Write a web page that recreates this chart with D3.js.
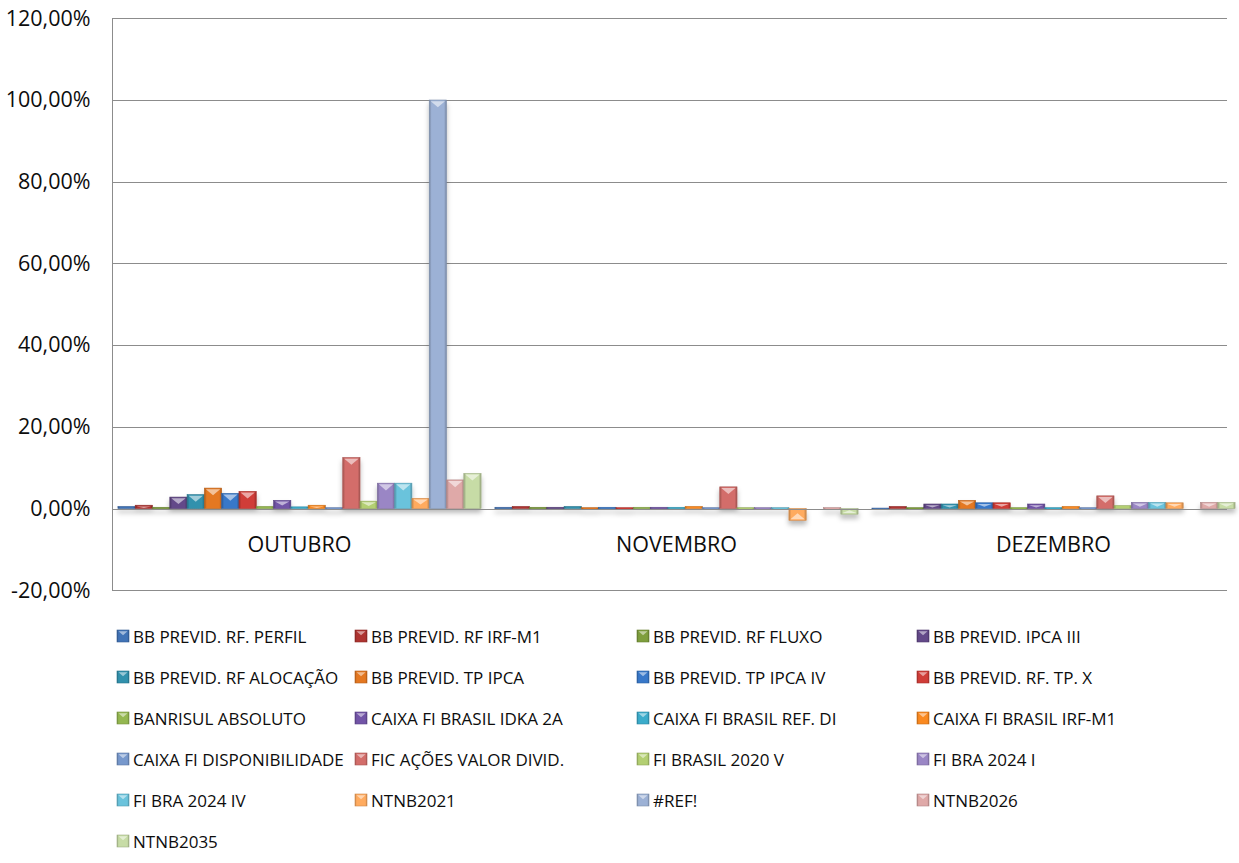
<!DOCTYPE html>
<html>
<head>
<meta charset="utf-8">
<script src="https://cdn.jsdelivr.net/npm/d3@7"></script>
<style>
  body { margin: 0; background: #fff; }
  text { font-family: "Open Sans", sans-serif; fill: #0d0d0d; }
</style>
</head>
<body>
<div id="chart"></div>
<script>
var months = ['OUTUBRO', 'NOVEMBRO', 'DEZEMBRO'];

var seriesNames = [
  'BB PREVID. RF. PERFIL', 'BB PREVID. RF IRF-M1', 'BB PREVID. RF FLUXO', 'BB PREVID. IPCA III',
  'BB PREVID. RF ALOCAÇÃO', 'BB PREVID. TP IPCA', 'BB PREVID. TP IPCA IV', 'BB PREVID. RF. TP. X',
  'BANRISUL ABSOLUTO', 'CAIXA FI BRASIL IDKA 2A', 'CAIXA FI BRASIL REF. DI', 'CAIXA FI BRASIL IRF-M1',
  'CAIXA FI DISPONIBILIDADE', 'FIC AÇÕES VALOR DIVID.', 'FI BRASIL 2020 V', 'FI BRA 2024 I',
  'FI BRA 2024 IV', 'NTNB2021', '#REF!', 'NTNB2026',
  'NTNB2035'
];

var seriesColors = [
  '#3f6fb0', '#a8322f', '#7a983b', '#604684',
  '#2f8ca7', '#dc7420', '#3674c2', '#c93b36',
  '#8fb14d', '#6e51a1', '#39a6c4', '#f1841f',
  '#7393c5', '#cc6966', '#adc86e', '#9581be',
  '#66bcd4', '#f7a55c', '#97abce', '#d7a3a2',
  '#c0d4a0'
];

// rentabilidade (%) por fundo
var outubro  = [0.5, 0.8, 0.3, 2.8, 3.4, 5.0, 3.7, 4.2, 0.5, 2.0, 0.4, 0.8, 0.2, 12.5, 1.8, 6.2, 6.2, 2.5, 100, 7.0, 8.6];
var novembro = [0.3, 0.5, 0.3, 0.3, 0.5, 0.2, 0.3, 0.2, 0.3, 0.3, 0.3, 0.5, 0.2, 5.3, 0.2, 0.2, 0.2, -2.9, 0, 0.2, -1.4];
var dezembro = [0.1, 0.5, 0.2, 1.1, 1.1, 2.0, 1.4, 1.4, 0.2, 1.1, 0.2, 0.5, 0.2, 3.1, 0.7, 1.5, 1.5, 1.4, 0, 1.5, 1.5];

var yTicks = [-20, 0, 20, 40, 60, 80, 100, 120];

var WIDTH = 1239, HEIGHT = 863;

var monthValues = [outubro, novembro, dezembro];

var svg = d3.select('#chart').append('svg')
  .attr('width', WIDTH)
  .attr('height', HEIGHT);

var defs = svg.append('defs');

// shadow under the bars
var shadow = defs.append('filter').attr('id', 'shadow')
  .attr('x', '-20%').attr('y', '-20%').attr('width', '140%').attr('height', '140%');
shadow.append('feDropShadow')
  .attr('dx', 0).attr('dy', 4)
  .attr('stdDeviation', 2.5)
  .attr('flood-color', '#000')
  .attr('flood-opacity', 0.28);

// one horizontal gradient per series for the bevel look
seriesColors.forEach(function(c, i) {
  var g = defs.append('linearGradient').attr('id', 'grad' + i)
    .attr('x1', 0).attr('x2', 1).attr('y1', 0).attr('y2', 0);
  var base = d3.color(c);
  g.append('stop').attr('offset', 0).attr('stop-color', base.darker(0.7));
  g.append('stop').attr('offset', 0.14).attr('stop-color', base.brighter(0.1));
  g.append('stop').attr('offset', 0.86).attr('stop-color', base.brighter(0.1));
  g.append('stop').attr('offset', 1).attr('stop-color', base.darker(0.7));
});

var locale = d3.formatLocale({ decimal: ',', thousands: '.', grouping: [3], currency: ['R$', ''], minus: '-' });
var fmt = locale.format('.2f');

var x0 = d3.scaleBand()
  .domain(months)
  .range([111, 1242])
  .paddingInner(0)
  .paddingOuter(0);

var x1 = d3.scaleBand()
  .domain(d3.range(seriesNames.length))
  .range([0, x0.bandwidth()])
  .paddingInner(0)
  .paddingOuter(0.4);

var y = d3.scaleLinear()
  .domain([-20, 120])
  .range([590.2, 18.3]);

var axisLeft = 112.5;
var gridRight = 1227;

// gridlines
svg.append('g').selectAll('line')
  .data(yTicks)
  .enter()
  .append('line')
  .attr('x1', axisLeft)
  .attr('x2', gridRight)
  .attr('y1', function(d) { return Math.round(y(d)) + 0.5; })
  .attr('y2', function(d) { return Math.round(y(d)) + 0.5; })
  .attr('stroke', '#8c8c8c')
  .attr('stroke-width', 1);

// y axis
var yAxis = d3.axisLeft(y)
  .tickValues(yTicks)
  .tickSize(0)
  .tickPadding(22)
  .tickFormat(function(d) { return fmt(d) + '%'; });

var yg = svg.append('g')
  .attr('transform', 'translate(' + axisLeft + ',0)')
  .call(yAxis);
yg.select('.domain').remove();
yg.selectAll('text')
  .style('font-family', '"Open Sans", sans-serif')
  .style('font-size', '21.5px')
  .attr('fill', '#0d0d0d');

svg.append('line')
  .attr('x1', axisLeft).attr('x2', axisLeft)
  .attr('y1', Math.round(y(120)))
  .attr('y2', Math.round(y(-20)) + 1)
  .attr('stroke', '#8c8c8c');

// bars
var barData = [];
months.forEach(function(m, mi) {
  monthValues[mi].forEach(function(v, si) {
    barData.push({ month: m, s: si, v: v });
  });
});

var bars = svg.append('g').attr('filter', 'url(#shadow)');

var barGroups = bars.selectAll('g.bar')
  .data(barData.filter(function(d) { return d.v !== 0; }))
  .enter()
  .append('g')
  .attr('class', 'bar');

barGroups.append('rect')
  .attr('x', function(d) { return x0(d.month) + x1(d.s); })
  .attr('width', x1.bandwidth())
  .attr('y', function(d) { return Math.min(y(d.v), y(0)); })
  .attr('height', function(d) { return Math.max(1.5, Math.abs(y(d.v) - y(0))); })
  .attr('fill', function(d) { return 'url(#grad' + d.s + ')'; })
  .attr('stroke', function(d) { return d3.color(seriesColors[d.s]).darker(0.5); })
  .attr('stroke-width', 0.6);

// bevel highlight at the end of each bar
barGroups.append('polygon')
  .attr('points', function(d) {
    var bx = x0(d.month) + x1(d.s);
    var w = x1.bandwidth();
    var h = Math.abs(y(d.v) - y(0));
    if (h < 3) return '';
    var th = Math.min(w * 0.35, h * 0.5);
    var yEnd = y(d.v);
    var dir = d.v >= 0 ? 1 : -1;
    var y1 = yEnd + dir * 1.2;
    return [[bx + 1.5, y1], [bx + w - 1.5, y1], [bx + w / 2, y1 + dir * th]].join(' ');
  })
  .attr('fill', '#fff')
  .attr('fill-opacity', 0.55);

// zero line on top of the bars
svg.append('line')
  .attr('x1', axisLeft).attr('x2', gridRight)
  .attr('y1', Math.round(y(0)) + 0.5).attr('y2', Math.round(y(0)) + 0.5)
  .attr('stroke', '#8c8c8c');

// category labels
svg.append('g').selectAll('text')
  .data(months)
  .enter()
  .append('text')
  .attr('x', function(d) { return x0(d) + x0.bandwidth() / 2; })
  .attr('y', 552)
  .attr('text-anchor', 'middle')
  .style('font-size', '21.5px')
  .text(function(d) { return d; });

// legend
var legendCols = [117, 355, 637, 917];
var legendTop = 636, legendStep = 41;

var legend = svg.append('g').selectAll('g')
  .data(seriesNames)
  .enter()
  .append('g')
  .attr('transform', function(d, i) {
    return 'translate(' + legendCols[i % 4] + ',' + (legendTop + Math.floor(i / 4) * legendStep) + ')';
  });

legend.append('rect')
  .attr('x', 0).attr('y', -6)
  .attr('width', 12).attr('height', 12)
  .attr('fill', function(d, i) { return 'url(#grad' + i + ')'; })
  .attr('stroke', function(d, i) { return d3.color(seriesColors[i]).darker(0.5); })
  .attr('stroke-width', 0.6);

legend.append('polygon')
  .attr('points', '1.5,-4.8 10.5,-4.8 6,-0.8')
  .attr('fill', '#fff')
  .attr('fill-opacity', 0.5);

legend.append('text')
  .attr('x', 16)
  .attr('y', 7)
  .style('font-size', '17px')
  .text(function(d) { return d; });
</script>
</body>
</html>
